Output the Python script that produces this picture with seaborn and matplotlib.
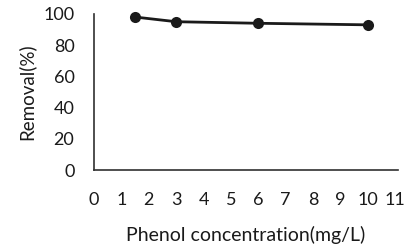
import matplotlib
matplotlib.use("Agg")
import matplotlib.pyplot as plt
import seaborn as sns
import pandas as pd

# Data
concentration = [1.5, 3, 6, 10]
removal = [98, 95, 94, 93]
x_ticks = list(range(0, 12))
y_ticks = [0, 20, 40, 60, 80, 100]

sns.set_style("white")
plt.rcParams["font.family"] = ["Lato", "DejaVu Sans"]

df = pd.DataFrame({"conc": concentration, "removal": removal})

fig = plt.figure(figsize=(4.10, 2.44), dpi=100)
ax = fig.add_axes([0.229, 0.303, 0.742, 0.64])

sns.lineplot(data=df, x="conc", y="removal", ax=ax, color="#1a1a1a",
             linewidth=2, marker="o", markersize=8, markeredgewidth=0,
             clip_on=False)

ax.set_xlim(0, 11.1)
ax.set_ylim(0, 100)
ax.set_xticks(x_ticks)
ax.set_yticks(y_ticks)
ax.tick_params(axis="x", length=0, labelsize=13, colors="#1a1a1a", pad=16)
ax.tick_params(axis="y", length=0, labelsize=13, colors="#1a1a1a", pad=14)

sns.despine(ax=ax)
for s in ["left", "bottom"]:
    ax.spines[s].set_color("#303030")
    ax.spines[s].set_linewidth(1.2)

ax.set_xlabel("Phenol concentration(mg/L)", fontsize=14, color="#1a1a1a", labelpad=13)
ax.set_ylabel("Removal(%)", fontsize=13.5, color="#1a1a1a", labelpad=6)

fig.savefig("out.png", dpi=100)
